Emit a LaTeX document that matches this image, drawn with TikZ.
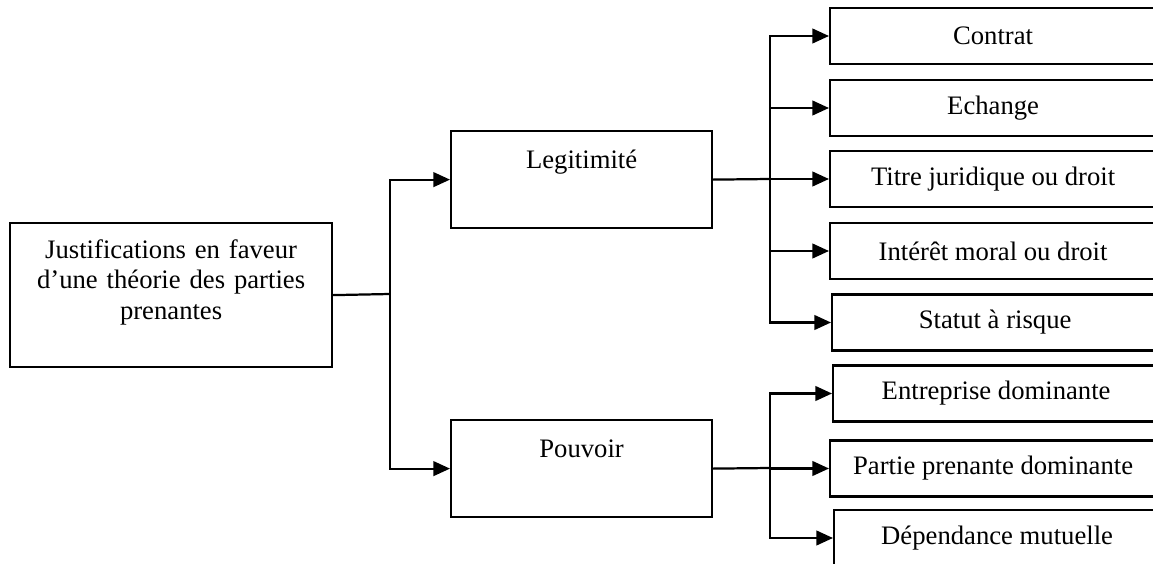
\documentclass[tikz,border=0pt]{standalone}
\usepackage{fontspec}
\setmainfont{Liberation Serif}
\usetikzlibrary{arrows.meta}
\begin{document}
\begin{tikzpicture}[
x=0.45pt, y=-0.45pt,
line width=1pt,
every node/.style={draw, font=\fontsize{12}{13.7}\selectfont},
arr/.style={-{Triangle[length=7.5pt,width=6.6pt]}},
topbox/.style={anchor=north west, inner sep=0pt, align=center},
midbox/.style={topbox, text width=117.45pt, text height=16.65pt, text depth=27pt},
sub/.style={anchor=west, minimum width=146.7pt, minimum height=25.2pt, inner sep=0pt}
]
\useasboundingbox (0,0) rectangle (1153,564);
\node[topbox, text width=144.9pt, text height=15.75pt, text depth=49.05pt] (root) at (9,222)
    {Justifications en faveur\\ d’une théorie des parties\\ prenantes};
\node[midbox] (legit) at (450,130) {Legitimité};
\node[midbox] (pouvoir) at (450,419) {Pouvoir};
\node[sub] (contrat) at (829,36) {Contrat};
\node[sub] (echange) at (829,108) {Echange};
\node[sub] (titre) at (829,179) {Titre juridique ou droit};
\node[sub] (interet) at (829,251) {Intérêt moral ou droit};
\node[sub] (statut) at (831,322.5) {Statut à risque};
\node[sub] (entreprise) at (832,393.5) {Entreprise dominante};
\node[sub] (partie) at (829,468.5) {Partie prenante dominante};
\node[sub] (dependance) at (833,538) {Dépendance mutuelle};
\coordinate (j1) at (390,294);
\coordinate (j2) at (770,179);
\coordinate (j3) at (770,468);
\draw (root.east) -- (j1);
\draw[arr] (j1) |- (legit.west);
\draw[arr] (j1) |- (pouvoir.west);
\draw (legit.east) -- (j2);
\foreach \t in {contrat,echange,titre,interet,statut}
    \draw[arr] (j2) |- (\t.west);
\draw (pouvoir.east) -- (j3);
\foreach \t in {entreprise,partie,dependance}
    \draw[arr] (j3) |- (\t.west);
\end{tikzpicture}
\end{document}
